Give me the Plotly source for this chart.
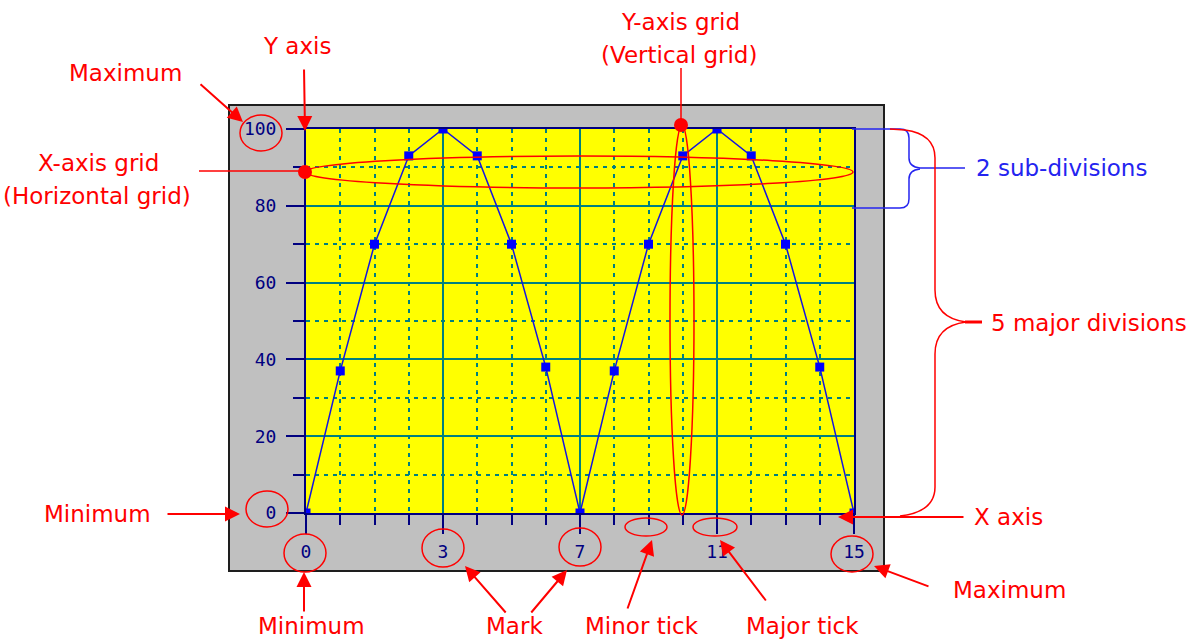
import plotly.graph_objects as go

# ---------------- data ----------------
x_index = list(range(17))
values = [0, 37, 70, 93, 100, 93, 70, 38, 0, 37, 70, 93, 100, 93, 70, 38, 0]
x_tick_positions = [0, 4, 8, 12, 16]
x_tick_labels = ["0", "3", "7", "11", "15"]
y_range = [0, 100]

# ---------------- style ----------------
NAVY = "#000080"
TEAL = "#008080"
RED = "#FF0000"
BLUE = "#2424F0"
W, H = 1188, 643
L, R, T, B = 306, 854, 129, 513   # plot area in pixels
TXT = 23


def px(x):
    return (x - L) / (R - L)


def py(y):
    return (B - y) / (B - T)


def ellipse(cx, cy, rx, ry, color=RED, width=1.5):
    return dict(type="circle", xref="paper", yref="paper",
                x0=px(cx - rx), x1=px(cx + rx), y0=py(cy + ry), y1=py(cy - ry),
                line=dict(color=color, width=width), layer="above")


def dot(cx, cy, r=7):
    return dict(type="circle", xref="paper", yref="paper",
                x0=px(cx - r), x1=px(cx + r), y0=py(cy + r), y1=py(cy - r),
                line=dict(color=RED, width=0), fillcolor=RED, layer="above")


def seg(x0, y0, x1, y1, color=RED, width=1.5):
    return dict(type="line", xref="paper", yref="paper",
                x0=px(x0), y0=py(y0), x1=px(x1), y1=py(y1),
                line=dict(color=color, width=width), layer="above")


def path(cmds, color, width=1.5):
    parts = []
    for c, pts in cmds:
        parts.append(c + " " + " ".join(f"{px(x):.5f},{py(y):.5f}" for x, y in pts))
    return dict(type="path", xref="paper", yref="paper", path=" ".join(parts),
                line=dict(color=color, width=width), layer="above")


def label(x, y, s, color=RED, size=TXT):
    return dict(x=px(x), y=py(y), xref="paper", yref="paper", text=s,
                showarrow=False, xanchor="center", yanchor="middle",
                font=dict(family="DejaVu Sans", size=size, color=color))


def arrow(x0, y0, x1, y1):
    return dict(x=px(x1), y=py(y1), xref="paper", yref="paper", text="",
                showarrow=True, ax=x0 - x1, ay=y0 - y1, axref="pixel", ayref="pixel",
                arrowhead=2, arrowsize=1.5, arrowwidth=2, arrowcolor=RED)


fig = go.Figure()
fig.add_trace(go.Scatter(
    x=x_index, y=values, mode="lines+markers",
    line=dict(color="#1515E0", width=1.5),
    marker=dict(symbol="square", size=9, color="#0000FF"),
    showlegend=False,
))

tickfont = dict(family="DejaVu Sans Mono", size=18, color=NAVY)
fig.update_xaxes(
    range=[0, 16], tickmode="array", tickvals=x_tick_positions, ticktext=x_tick_labels,
    ticks="outside", ticklen=19, tickwidth=2, tickcolor=NAVY,
    showline=True, linecolor=NAVY, linewidth=2, mirror=True,
    showgrid=True, gridcolor=TEAL, gridwidth=1.5, zeroline=False,
    tickfont=tickfont, ticklabelstandoff=2,
    minor=dict(dtick=1, tick0=0, ticks="outside", ticklen=10, tickwidth=2, tickcolor=NAVY,
               showgrid=True, gridcolor=TEAL, gridwidth=1.5, griddash="4px,5px"),
)
fig.update_yaxes(
    range=y_range, tick0=0, dtick=20,
    ticks="outside", ticklen=18, tickwidth=2, tickcolor=NAVY,
    showline=True, linecolor=NAVY, linewidth=2, mirror=True,
    showgrid=True, gridcolor=TEAL, gridwidth=1.5, zeroline=False,
    tickfont=tickfont, ticklabelstandoff=6,
    minor=dict(dtick=10, tick0=0, ticks="outside", ticklen=11, tickwidth=2, tickcolor=NAVY,
               showgrid=True, gridcolor=TEAL, gridwidth=1.5, griddash="4px,5px"),
)

shapes = [
    # gray panel
    dict(type="rect", xref="paper", yref="paper",
         x0=px(229), x1=px(884), y0=py(571), y1=py(105),
         fillcolor="#C0C0C0", line=dict(color="#1E1E1E", width=2), layer="below"),
    # yellow plot background
    dict(type="rect", xref="x", yref="y", x0=0, x1=16, y0=0, y1=100,
         fillcolor="#FFFF00", line=dict(width=0), layer="below"),
    # circles around tick labels
    ellipse(261, 133, 21, 18),
    ellipse(267, 509, 21, 18),
    ellipse(305, 553, 21, 19),
    ellipse(443, 548, 21, 19),
    ellipse(580, 547, 21, 19),
    ellipse(646, 527, 21, 9),
    ellipse(715, 527, 22, 9),
    ellipse(852, 554, 21, 18),
    # grid ellipses
    ellipse(579, 172, 274, 16),
    ellipse(682, 320, 12, 195),
    # grid pointers
    seg(199, 171, 305, 171),
    dot(305, 172),
    seg(681, 68, 681, 125),
    dot(681, 125),
    # blue bracket: 2 sub-divisions
    path([("M", [(852, 129)]), ("L", [(900, 129)]), ("Q", [(909, 129), (909, 138)]),
          ("L", [(909, 158)]), ("Q", [(909, 167), (920, 168)]), ("L", [(965, 168)]),
          ("M", [(920, 169)]), ("Q", [(909, 170), (909, 179)]), ("L", [(909, 199)]),
          ("Q", [(909, 208), (900, 208)]), ("L", [(852, 208)])], BLUE, 1.5),
    # red brace: 5 major divisions
    path([("M", [(890, 129)]), ("L", [(905, 130)]), ("Q", [(935, 134), (935, 158)]),
          ("L", [(935, 290)]), ("Q", [(935, 318), (966, 322)]),
          ("Q", [(935, 326), (935, 354)]), ("L", [(935, 487)]),
          ("Q", [(935, 512), (900, 516)])], RED, 1.5),
    seg(965, 322, 982, 322, RED, 3),
]

annotations = [
    label(125, 73, "Maximum"),
    arrow(199, 83, 243, 122),
    label(297, 46, "Y axis"),
    arrow(304, 68, 305, 131),
    label(98, 163, "X-axis grid"),
    label(97, 196, "(Horizontal grid)"),
    label(680, 22, "Y-axis grid"),
    label(679, 55, "(Vertical grid)"),
    label(1061, 168, "2 sub-divisions", color=BLUE),
    label(1089, 323, "5 major divisions"),
    label(1008, 517, "X axis"),
    arrow(965, 517, 838, 517),
    label(97, 514, "Minimum"),
    arrow(166, 514, 240, 514),
    label(311, 626, "Minimum"),
    arrow(304, 613, 304, 572),
    label(514, 626, "Mark"),
    arrow(507, 614, 465, 566),
    arrow(530, 614, 567, 570),
    label(642, 626, "Minor tick"),
    arrow(627, 610, 652, 540),
    label(802, 626, "Major tick"),
    arrow(767, 602, 720, 540),
    label(1009, 590, "Maximum"),
    arrow(930, 587, 874, 566),
]

fig.update_layout(
    width=W, height=H, autosize=False,
    margin=dict(l=L, r=W - R, t=T, b=H - B, pad=0),
    paper_bgcolor="white", plot_bgcolor="#FFFF00",
    shapes=shapes, annotations=annotations, showlegend=False,
)

fig.write_html(
    "out.html",
    config={"displayModeBar": False},
    post_script="document.body.style.margin='0';document.body.style.padding='0';"
                "document.body.style.overflow='hidden';",
)
